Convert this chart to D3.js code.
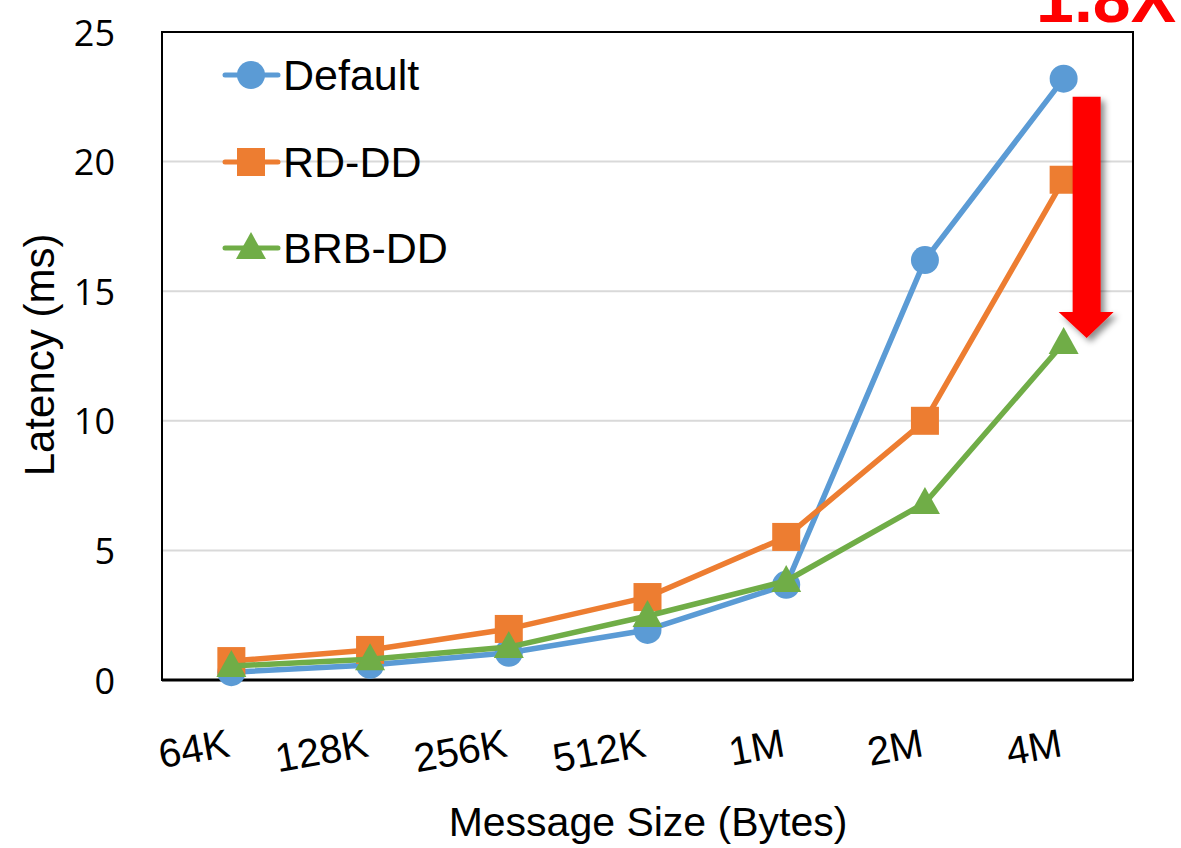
<!DOCTYPE html>
<html>
<head>
<meta charset="utf-8">
<script src="https://cdn.jsdelivr.net/npm/d3@7/dist/d3.min.js"></script>
<style>
  html, body { margin: 0; padding: 0; background: #fff; }
  svg { display: block; }
</style>
</head>
<body>
<svg id="chart" width="1181" height="848"></svg>
<script>
const categories = ["64K", "128K", "256K", "512K", "1M", "2M", "4M"];
const defaultValues = [0.3, 0.58, 1.05, 1.93, 3.67, 16.2, 23.2];
const rdddValues = [0.73, 1.16, 1.97, 3.2, 5.52, 10.0, 19.3];
const brbddValues = [0.54, 0.8, 1.27, 2.47, 3.82, 6.83, 13.0];
const seriesNames = ["Default", "RD-DD", "BRB-DD"];
const yTicks = [0, 5, 10, 15, 20, 25];
const speedupLabel = "1.8X";

const colors = ["#5B9BD5", "#ED7D31", "#70AD47"];
const shapes = ["circle", "square", "triangle"];
const series = [defaultValues, rdddValues, brbddValues];

const labelFont = "'Liberation Sans Narrow', 'Liberation Sans', Arial, sans-serif";
const tickFont = "'Open Sans', 'DejaVu Sans', sans-serif";

const svg = d3.select("#chart");
const pLeft = 162, pRight = 1133, pTop = 32, pBottom = 680;

const x = d3.scalePoint().domain(categories).range([pLeft, pRight]).padding(0.5);
const y = d3.scaleLinear().domain([0, 25]).range([pBottom, pTop]);

const defs = svg.append("defs");
const f = defs.append("filter").attr("id", "shadow").attr("x", "-50%").attr("y", "-20%").attr("width", "200%").attr("height", "140%");
f.append("feDropShadow").attr("dx", 4).attr("dy", 4).attr("stdDeviation", 3).attr("flood-color", "#000").attr("flood-opacity", 0.45);

// gridlines
svg.append("g").selectAll("line").data(yTicks.filter(t => t > 0 && t < 25)).join("line")
  .attr("x1", pLeft).attr("x2", pRight).attr("y1", d => y(d)).attr("y2", d => y(d))
  .attr("stroke", "#D9D9D9").attr("stroke-width", 2);

// frame
svg.append("rect").attr("x", pLeft).attr("y", pTop).attr("width", pRight - pLeft).attr("height", pBottom - pTop)
  .attr("fill", "none").attr("stroke", "#000").attr("stroke-width", 2);
svg.append("line").attr("x1", pLeft).attr("x2", pRight).attr("y1", pBottom).attr("y2", pBottom)
  .attr("stroke", "#000").attr("stroke-width", 3);

// y tick labels
svg.append("g").selectAll("text").data(yTicks).join("text")
  .attr("x", 115).attr("y", d => y(d)).attr("text-anchor", "end").attr("dominant-baseline", "central")
  .attr("font-family", tickFont).attr("font-size", 36).attr("fill", "#000").text(d => d);

// x tick labels (rotated)
svg.append("g").selectAll("text").data(categories).join("text")
  .attr("transform", d => `translate(${x(d)},756) rotate(-10)`)
  .attr("text-anchor", "end")
  .attr("font-family", labelFont).attr("font-size", 40).attr("fill", "#000").text(d => d);

// axis titles
svg.append("text").attr("x", 648).attr("y", 836).attr("text-anchor", "middle")
  .attr("font-family", labelFont).attr("font-size", 41).attr("fill", "#000").text("Message Size (Bytes)");
svg.append("text").attr("transform", "translate(54,355) rotate(-90)").attr("text-anchor", "middle")
  .attr("font-family", labelFont).attr("font-size", 42).attr("fill", "#000").text("Latency (ms)");

function drawMarker(g, shape, cx, cy, color) {
  if (shape === "circle") {
    g.append("circle").attr("cx", cx).attr("cy", cy).attr("r", 14).attr("fill", color);
  } else if (shape === "square") {
    g.append("rect").attr("x", cx - 14).attr("y", cy - 14).attr("width", 28).attr("height", 28).attr("fill", color);
  } else {
    g.append("path").attr("d", `M${cx},${cy - 16} L${cx + 15},${cy + 11} L${cx - 15},${cy + 11} Z`).attr("fill", color);
  }
}

const line = d3.line().x((d, i) => x(categories[i])).y(d => y(d));
series.forEach((vals, si) => {
  const g = svg.append("g");
  g.append("path").datum(vals).attr("d", line).attr("fill", "none")
    .attr("stroke", colors[si]).attr("stroke-width", 5.5).attr("stroke-linejoin", "round").attr("stroke-linecap", "round");
  vals.forEach((v, i) => drawMarker(g, shapes[si], x(categories[i]), y(v), colors[si]));
});

// legend
const legendY = [75, 162, 248];
seriesNames.forEach((name, i) => {
  const g = svg.append("g");
  g.append("line").attr("x1", 225).attr("x2", 278).attr("y1", legendY[i]).attr("y2", legendY[i])
    .attr("stroke", colors[i]).attr("stroke-width", 5).attr("stroke-linecap", "round");
  drawMarker(g, shapes[i], 251, legendY[i], colors[i]);
  g.append("text").attr("x", 283).attr("y", legendY[i]).attr("dominant-baseline", "central")
    .attr("font-family", labelFont).attr("font-size", 43).attr("fill", "#000").text(name);
});

// red arrow annotation
const last = categories[categories.length - 1];
const ax = x(last) + 23;
const aTop = y(defaultValues[6]) + 18;
const aTip = y(brbddValues[6]) - 5;
const headH = 26;
const arrowPts = [
  [ax - 14, aTop], [ax + 14, aTop], [ax + 14, aTip - headH], [ax + 27, aTip - headH],
  [ax, aTip], [ax - 28, aTip - headH], [ax - 14, aTip - headH]
];
svg.append("polygon").attr("points", arrowPts.map(p => p.join(",")).join(" "))
  .attr("fill", "#FF0000").attr("filter", "url(#shadow)");

svg.append("text").attr("x", 1176).attr("y", 22).attr("text-anchor", "end")
  .attr("font-family", "'Liberation Sans', Arial, sans-serif").attr("font-weight", "bold")
  .attr("font-size", 68).attr("fill", "#FF0000").text(speedupLabel);
</script>
</body>
</html>
